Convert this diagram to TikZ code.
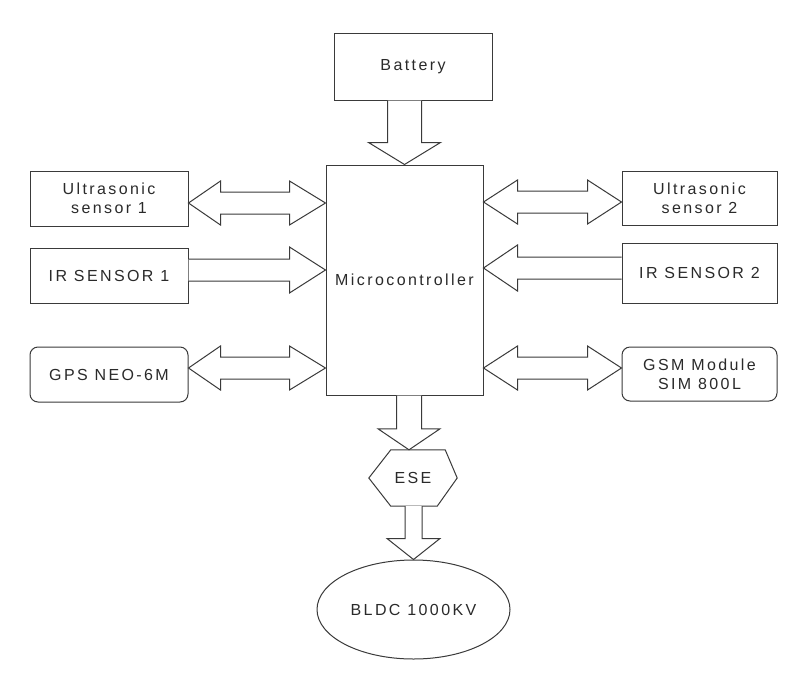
\documentclass[tikz,border=0pt]{standalone}
\usepackage{fontspec}
\setmainfont{Liberation Sans}[LetterSpace=15]
\usetikzlibrary{calc,shapes.geometric}
\definecolor{ln}{HTML}{3A3A3A}
\definecolor{txt}{HTML}{2A2A2A}
\newcommand{\vArrow}[5]{%
  \draw[barrow] let \p1=(#1), \p2=(#2) in
    (\x2-#3,\y1) -- (\x2-#3,\y2+#5) -- (\x2-#4,\y2+#5) -- (\x2,\y2)
    -- (\x2+#4,\y2+#5) -- (\x2+#3,\y2+#5) -- (\x2+#3,\y1);}
\newcommand{\hDbl}[4]{%
  \draw[barrow] let \p1=(#1), \p2=(#2) in
    (\x1,\y1) -- (\x1+#3,\y1+22pt) -- (\x1+#3,\y1+11pt) -- (\x2-#4,\y1+11pt)
    -- (\x2-#4,\y1+22pt) -- (\x2,\y1) -- (\x2-#4,\y1-22pt) -- (\x2-#4,\y1-11pt)
    -- (\x1+#3,\y1-11pt) -- (\x1+#3,\y1-22pt) -- cycle;}
\newcommand{\hRight}[3]{%
  \draw[barrow] let \p1=(#1), \p2=(#2) in
    (\x1,\y1+11pt) -- (\x2-#3,\y1+11pt) -- (\x2-#3,\y1+23pt) -- (\x2,\y1)
    -- (\x2-#3,\y1-23pt) -- (\x2-#3,\y1-11pt) -- (\x1,\y1-11pt);}
\newcommand{\hLeft}[3]{%
  \draw[barrow] let \p1=(#1), \p2=(#2) in
    (\x1,\y2+11pt) -- (\x2+#3,\y2+11pt) -- (\x2+#3,\y2+23pt) -- (\x2,\y2)
    -- (\x2+#3,\y2-23pt) -- (\x2+#3,\y2-11pt) -- (\x1,\y2-11pt);}
\begin{document}
\begin{tikzpicture}[x=1pt,y=-1pt,
  box/.style={draw=ln, line width=1pt, minimum width=158pt, minimum height=55pt,
    inner sep=0pt, align=center, text=txt, font=\fontsize{16}{19}\selectfont},
  rbox/.style={box, rounded corners=8pt},
  barrow/.style={draw=ln, fill=white, line width=1pt, line join=miter}]
\fill[white] (0,0) rectangle (795,691);
\useasboundingbox (0,0) rectangle (795,691);

\node[box, minimum height=67pt] (bat) at (413,66.5) {Battery};
\node[box, minimum width=157pt, minimum height=230pt] (mc) at (404.5,280) {Microcontroller};
\node[box] (us1) at (109,198.5) {Ultrasonic\\sensor 1};
\node[box] (ir1) at (109,275.5) {IR SENSOR 1};
\node[rbox] (gps) at (109,374.5) {GPS NEO-6M};
\node[box, minimum width=155pt, minimum height=54pt] (us2) at (699.5,198) {Ultrasonic\\sensor 2};
\node[box, minimum width=155pt, minimum height=60pt] (ir2) at (699.5,273) {IR SENSOR 2};
\node[rbox, minimum width=155pt, minimum height=54pt] (gsm) at (699.5,374) {GSM Module\\SIM 800L};
\node[text=txt, font=\fontsize{16}{19}\selectfont, inner sep=0pt,
  minimum width=88pt, minimum height=56pt] (ese) at (413,478) {ESE};
\draw[ln, line width=1pt, line join=miter] (ese.west) -- ([xshift=22pt]ese.north west)
  -- ([xshift=-12pt]ese.north east) -- (ese.east) -- ([xshift=-20pt]ese.south east)
  -- ([xshift=22pt]ese.south west) -- cycle;
\node[ellipse, draw=ln, line width=1pt, text=txt, font=\fontsize{16}{19}\selectfont,
  inner sep=0pt, minimum width=193pt, minimum height=99pt] (bldc) at (413.5,609.5) {BLDC 1000KV};

% vertical arrows
\vArrow{bat.south}{mc.north}{17pt}{36pt}{22pt}
\vArrow{mc.south}{[xshift=-4pt]ese.north}{12.5pt}{31pt}{21pt}
\vArrow{ese.south}{bldc.north}{8.5pt}{26.5pt}{21pt}

% left side
\hDbl{[yshift=-4.5pt]us1.east}{mc.west}{32pt}{36pt}
\hRight{[yshift=5.5pt]ir1.east}{mc.west}{36pt}
\hDbl{[yshift=6.5pt]gps.east}{mc.west}{32pt}{36pt}

% right side
\hDbl{$(mc.east |- us2.west)+(0,4)$}{us2.west}{34pt}{34pt}
\hLeft{ir2.west}{$(mc.east |- ir2.west)+(0,-5)$}{34pt}
\hDbl{$(mc.east |- gsm.west)+(0,-6)$}{gsm.west}{34pt}{34pt}
\end{tikzpicture}
\end{document}
